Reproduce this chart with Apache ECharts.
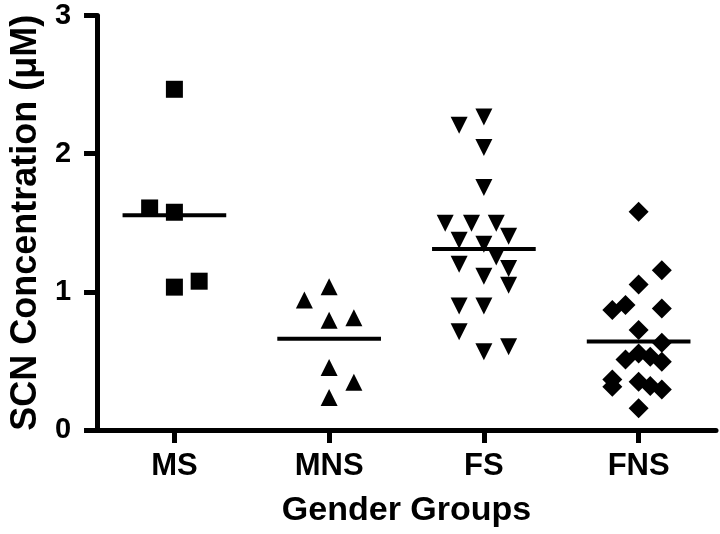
<!DOCTYPE html>
<html>
<head>
<meta charset="utf-8">
<script src="https://cdn.jsdelivr.net/npm/echarts@6/dist/echarts.min.js"></script>
<style>html,body{margin:0;padding:0;background:#fff}#c{width:720px;height:534px}</style>
</head>
<body>
<div id="c"></div>
<script>
var categories = ['MS', 'MNS', 'FS', 'FNS'];
var yTicks = [0, 1, 2, 3];

var msValues  = [2.466, 1.607, 1.576, 1.034, 1.077];
var msJitter  = [0, -0.16, 0, 0, 0.16];

var mnsValues = [1.036, 0.94, 0.795, 0.812, 0.453, 0.345, 0.236];
var mnsJitter = [0, -0.16, 0, 0.16, 0, 0.16, 0];

var fsValues  = [2.265, 2.205, 2.044, 1.755, 1.497, 1.497, 1.497, 1.403, 1.374, 1.345,
                 1.253, 1.2, 1.169, 1.113, 1.048, 0.897, 0.897, 0.711, 0.566, 0.602];
var fsJitter  = [0, -0.16, 0, 0, -0.25, -0.08, 0.08, 0.16, -0.16, 0,
                 0.08, -0.16, 0.16, 0, 0.16, -0.16, 0, -0.16, 0, 0.16];

var fnsValues = [1.579, 1.157, 1.053, 0.904, 0.868, 0.88, 0.723, 0.631, 0.511, 0.554,
                 0.53, 0.494, 0.366, 0.313, 0.349, 0.318, 0.294, 0.157];
var fnsJitter = [0, 0.15, 0, -0.085, -0.17, 0.15, 0, 0.15, -0.085, 0,
                 0.075, 0.15, -0.17, -0.17, 0, 0.075, 0.15, 0];

var groupMeans = [1.555, 0.66, 1.31, 0.64];

var FONT = '"Liberation Sans", Arial, Helvetica, sans-serif';

function pts(idx, vals, jit) {
  return vals.map(function (v, i) { return [idx + 0.5 + jit[i], v]; });
}
function meanLine(idx) {
  return {
    type: 'line', xAxisIndex: 1, yAxisIndex: 0, symbol: 'none', silent: true,
    lineStyle: { color: '#000', width: 4 }, z: 3,
    data: [[idx + 0.5 - 0.335, groupMeans[idx]], [idx + 0.5 + 0.335, groupMeans[idx]]]
  };
}
var scatterBase = { type: 'scatter', xAxisIndex: 1, yAxisIndex: 0, itemStyle: { color: '#000', opacity: 1 }, z: 4 };

var chart = echarts.init(document.getElementById('c'), null, { renderer: 'canvas' });
chart.setOption({
  animation: false,
  backgroundColor: '#fff',
  grid: { left: 93, right: 4, top: 15.5, bottom: 104, containLabel: false },
  xAxis: [
    {
      type: 'category', data: categories, boundaryGap: true,
      axisLine: { show: true, lineStyle: { color: '#000', width: 5 } },
      axisTick: { show: true, alignWithLabel: true, length: 13, lineStyle: { color: '#000', width: 5 } },
      axisLabel: { margin: 21, color: '#000', fontSize: 31, fontWeight: 'bold', fontFamily: FONT },
      splitLine: { show: false },
      name: 'Gender Groups', nameLocation: 'middle', nameGap: 64,
      nameTextStyle: { color: '#000', fontSize: 34, fontWeight: 'bold', fontFamily: FONT }
    },
    { type: 'value', min: 0, max: 4, show: false }
  ],
  yAxis: {
    type: 'value', min: yTicks[0], max: yTicks[yTicks.length - 1], interval: 1,
    axisLine: { show: true, lineStyle: { color: '#000', width: 5 } },
    axisTick: { show: true, length: 13, lineStyle: { color: '#000', width: 5 } },
    axisLabel: { margin: 26, color: '#000', fontSize: 29, fontWeight: 'bold', fontFamily: FONT },
    splitLine: { show: false },
    name: 'SCN Concentration (\u03bcM)', nameLocation: 'middle', nameGap: 52,
    nameTextStyle: { color: '#000', fontSize: 36, fontWeight: 'bold', fontFamily: FONT }
  },
  series: [
    Object.assign({}, scatterBase, { name: 'MS', symbol: 'rect', symbolSize: 17, data: pts(0, msValues, msJitter) }),
    Object.assign({}, scatterBase, { name: 'MNS', symbol: 'triangle', symbolSize: 17, data: pts(1, mnsValues, mnsJitter) }),
    Object.assign({}, scatterBase, { name: 'FS', symbol: 'triangle', symbolRotate: 180, symbolSize: 17, data: pts(2, fsValues, fsJitter) }),
    Object.assign({}, scatterBase, { name: 'FNS', symbol: 'diamond', symbolSize: 20, data: pts(3, fnsValues, fnsJitter) }),
    meanLine(0), meanLine(1), meanLine(2), meanLine(3)
  ]
});
</script>
</body>
</html>
